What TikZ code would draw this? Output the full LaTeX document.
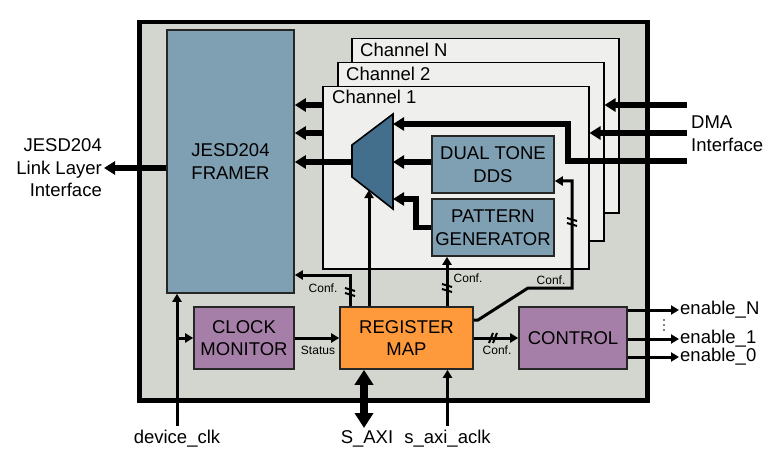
\documentclass[tikz,border=0pt]{standalone}
\usepackage{fontspec}
\setmainfont{Liberation Sans}
\usetikzlibrary{arrows.meta}

\definecolor{corefill}{HTML}{D3D6CE}
\definecolor{chanfill}{HTML}{EFEFED}
\definecolor{framerfill}{HTML}{7F9FB2}
\definecolor{muxfill}{HTML}{436E8C}
\definecolor{regfill}{HTML}{FF9A3C}
\definecolor{ctrlfill}{HTML}{A67FA9}

\newcommand\bigtxt{\fontsize{18.5}{22.5}\selectfont}
\newcommand\smalltxt{\fontsize{12}{14}\selectfont}

\tikzset{
  chanbox/.style={draw, line width=1.5pt, fill=chanfill, anchor=north west, inner sep=0pt},
  blockbox/.style={draw=black!85, line width=1.6pt, align=center, inner sep=0pt, font=\bigtxt},
  databus/.style={line width=5.5pt, -{Triangle[length=11pt,width=13pt]}},
  ctrlline/.style={line width=3pt, -{Triangle[length=8pt,width=9pt]}},
  axibus/.style={line width=8pt, {Triangle[length=15pt,width=18pt]}-{Triangle[length=15pt,width=18pt]}},
  vslashes/.pic={\draw[line width=2pt] (-5,-4) -- (5,-1) (-5,1) -- (5,4);},
  hslashes/.pic={\draw[line width=2pt] (-4,5) -- (0,-5) (0,5) -- (4,-5);},
}

\begin{document}
\begin{tikzpicture}[x=1pt,y=-1pt,font=\bigtxt]
  \useasboundingbox (0,0) rectangle (781,465);
  % core outline
  \node[draw, line width=4.5pt, fill=corefill, minimum width=508, minimum height=378,
        anchor=north west, inner sep=0pt] (core) at (137,20) {};
  \node[blockbox, fill=framerfill, minimum width=127, minimum height=263] (framer) at (230.5,161.5) {JESD204\\FRAMER};

  % channels
  \node[chanbox, minimum width=267, minimum height=174] (chanN) at (351,38) {};
  \node[chanbox, minimum width=266, minimum height=178] (chan2) at (337,62) {};
  \node[chanbox, minimum width=266, minimum height=182] (chan1) at (322,86) {};
  \node[anchor=base west, inner sep=0pt] (chanNlbl) at (360,57) {Channel N};
  \node[anchor=base west, inner sep=0pt] (chan2lbl) at (346,81) {Channel 2};
  \node[anchor=base west, inner sep=0pt] (chan1lbl) at (332,104) {Channel 1};

  \node[blockbox, fill=framerfill, minimum width=122, minimum height=57] (ddsbox) at (493,164.5) {DUAL TONE\\DDS};
  \node[blockbox, fill=framerfill, minimum width=122, minimum height=57] (patgen) at (493,227.5) {PATTERN\\GENERATOR};

  % mux
  \coordinate (muxNW) at (352,145);
  \coordinate (muxNE) at (393,114);
  \coordinate (muxSE) at (393,209);
  \coordinate (muxSW) at (352,177);
  \coordinate (muxout) at (352,162);
  \coordinate (muxin) at (369,190);
  \draw[line width=1.6pt, fill=muxfill] (muxNW) -- (muxNE) -- (muxSE) -- (muxSW) -- cycle;

  \node[blockbox, fill=ctrlfill, minimum width=100, minimum height=62] (clkmon) at (244,338) {CLOCK\\MONITOR};
  \node[blockbox, fill=regfill, minimum width=133, minimum height=62] (regmap) at (406.5,338) {REGISTER\\MAP};
  \node[blockbox, fill=ctrlfill, minimum width=108, minimum height=62] (control) at (573,338) {CONTROL};

  % outside labels
  \node[anchor=east, align=right, inner sep=2pt] (jesdlink) at (104,168) {JESD204\\Link Layer\\Interface};
  \node[anchor=west, align=left, inner sep=0pt] (dmatext) at (691,133.5) {DMA\\Interface};
  \node[anchor=base] (devclk) at (177,443) {device\_clk};
  \node[anchor=base] (saxi) at (367,443) {S\_AXI};
  \node[anchor=base] (aclk) at (447.5,443) {s\_axi\_aclk};
  \node[anchor=west, inner sep=1pt] (enN) at (679,310) {enable\_N};
  \node[anchor=west, inner sep=1pt] (en1) at (679,339) {enable\_1};
  \node[anchor=west, inner sep=1pt] (en0) at (679,357) {enable\_0};
  \foreach \dy in {320,325,330}
    \fill (664,\dy) circle (0.9);

  % data paths
  \draw[databus] (framer.west |- 0,168) -- (jesdlink.east);
  \draw[databus] (chan1.west |- 0,105) -- (framer.east |- 0,105);
  \draw[databus] (chan1.west |- 0,133) -- (framer.east |- 0,133);
  \draw[databus] (muxout) -- (framer.east |- muxout);
  \draw[databus] (ddsbox.west |- muxout) -- (muxNE |- muxout);
  \coordinate (pgturn) at (416,199);
  \draw[databus] (patgen.west) -| (pgturn) -- (pgturn -| muxNE);
  \coordinate (dma1) at (687,105);
  \coordinate (dma2) at (687,133);
  \coordinate (dma3) at (687,161);
  \coordinate (dmaturn) at (568,124);
  \draw[databus] (dma1) -- (chan2.east |- dma1);
  \draw[databus] (dma2) -- (chan1.east |- dma2);
  \draw[databus] (dma3) -| (dmaturn) -- (dmaturn -| muxNE);

  % configuration and clocks
  \coordinate (cf1) at (350,275);
  \draw[ctrlline] (cf1 |- regmap.north) -- (cf1) -- (cf1 -| framer.east);
  \pic at (350,292) {vslashes};
  \node[font=\smalltxt] (cf1lbl) at (323,288) {Conf.};

  \draw[ctrlline] (muxin |- regmap.north) -- (muxin);

  \coordinate (cf2) at (447,288);
  \draw[ctrlline] (cf2 |- regmap.north) -- (cf2 |- patgen.south);
  \pic at (cf2) {vslashes};
  \node[font=\smalltxt] (cf2lbl) at (468,278) {Conf.};

  \coordinate (cf3a) at (478,320);
  \coordinate (cf3b) at (528,288);
  \coordinate (cf3c) at (572,288);
  \coordinate (cf3d) at (572,181);
  \draw[ctrlline] (regmap.east |- cf3a) -- (cf3a) -- (cf3b) -- (cf3c) -- (cf3d) -- (cf3d -| ddsbox.east);
  \pic at (572,222) {vslashes};
  \node[font=\smalltxt] (cf3lbl) at (551,280) {Conf.};

  \draw[ctrlline] (regmap.east) -- (control.west);
  \pic at (493,338) {hslashes};
  \node[font=\smalltxt] (cf4lbl) at (497,350) {Conf.};

  \draw[ctrlline] (clkmon.east) -- (regmap.west);
  \node[font=\smalltxt] (statuslbl) at (318,350) {Status};

  \draw[ctrlline] (devclk.north) -- (devclk.north |- framer.south);
  \draw[ctrlline] (devclk.north |- clkmon.west) -- (clkmon.west);
  \coordinate (axibot) at (364,428);
  \draw[axibus] (axibot) -- (axibot |- regmap.south);
  \draw[ctrlline] (aclk.north) -- (aclk.north |- regmap.south);

  \draw[ctrlline] (control.east |- enN) -- (enN.west);
  \draw[ctrlline] (control.east |- en1) -- (en1.west);
  \draw[ctrlline] (control.east |- en0) -- (en0.west);
\end{tikzpicture}
\end{document}
